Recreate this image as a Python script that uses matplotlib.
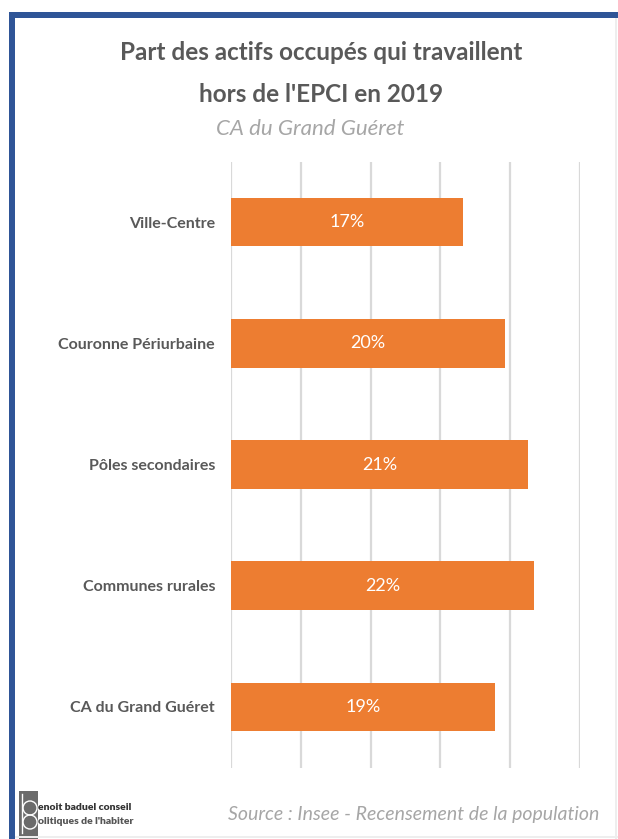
import numpy as np
import matplotlib
matplotlib.use("Agg")
import matplotlib.pyplot as plt
from matplotlib.patches import Rectangle, Circle

plt.rcParams["font.family"] = ["Lato", "DejaVu Sans"]

categories = ["Ville-Centre", "Couronne Périurbaine", "Pôles secondaires",
              "Communes rurales", "CA du Grand Guéret"]
values = [16.6, 19.6, 21.3, 21.7, 18.9]   # % of employed working outside the EPCI
xticks = [0, 5, 10, 15, 20, 25]

C_BAR = "#ED7D31"
C_TXT = "#595959"
C_LIGHT = "#A6A6A6"
C_GRID = "#D9D9D9"
C_BLUE = "#2F5597"

fig = plt.figure(figsize=(6.18, 8.39), dpi=100)
W, H = 618, 839

# frame: blue top/left border, light gray right/bottom
fig.patches.append(Rectangle((9 / W, 1 - 18 / H), 1 - 9 / W, 6 / H,
                             transform=fig.transFigure, fc=C_BLUE, ec="none"))
fig.patches.append(Rectangle((9 / W, 0), 6 / W, 1 - 12 / H,
                             transform=fig.transFigure, fc=C_BLUE, ec="none"))
fig.patches.append(Rectangle((615 / W, 0), 2 / W, 1 - 18 / H,
                             transform=fig.transFigure, fc="#EEEEEE", ec="none"))
fig.patches.append(Rectangle((15 / W, 1 / H), 1 - 15 / W, 2 / H,
                             transform=fig.transFigure, fc="#EEEEEE", ec="none"))

ax = fig.add_axes([231 / W, 71.5 / H, 349 / W, 606 / H])
y = np.arange(len(categories))
bars = ax.barh(y, values, height=0.4, color=C_BAR, zorder=3)
ax.set_ylim(len(categories) - 0.5, -0.5)
ax.set_xlim(xticks[0], xticks[-1])
ax.set_xticks(xticks)
ax.xaxis.grid(True, color=C_GRID, lw=1.6, zorder=0)
ax.tick_params(axis="x", length=0, labelbottom=False)
ax.tick_params(axis="y", length=0, pad=11.5)
ax.set_yticks(y)
ax.set_yticklabels(categories, fontsize=11.5, fontweight="bold", color=C_TXT)
for s in ax.spines.values():
    s.set_visible(False)

for rect, v in zip(bars, values):
    ax.text(v / 2, rect.get_y() + rect.get_height() / 2, f"{v:.0f}%",
            ha="center", va="center", color="white", fontsize=13, zorder=4)

fig.text(321 / W, 1 - 60 / H, "Part des actifs occupés qui travaillent",
         ha="center", va="baseline", fontsize=17.5, fontweight="bold", color=C_TXT)
fig.text(321 / W, 1 - 102 / H, "hors de l'EPCI en 2019",
         ha="center", va="baseline", fontsize=17.5, fontweight="bold", color=C_TXT)
fig.text(310 / W, 1 - 135 / H, "CA du Grand Guéret", ha="center", va="baseline",
         fontsize=16, style="italic", color=C_LIGHT)
fig.text(414 / W, 1 - 820 / H, "Source : Insee - Recensement de la population",
         ha="center", va="baseline", fontsize=14, style="italic", color=C_LIGHT)

# small logo
lax = fig.add_axes([19 / W, 0, 130 / W, 48 / H])
lax.set_xlim(0, 130); lax.set_ylim(0, 48); lax.axis("off")
lax.add_patch(Rectangle((0, 0), 19, 48, fc="#6b6b6b", ec="none"))
lax.plot([3, 3], [6, 45], color="white", lw=1.0)
lax.add_patch(Circle((11, 31), 7, fc="none", ec="white", lw=1.0))
lax.add_patch(Circle((11, 17), 7, fc="none", ec="white", lw=1.0))
lax.text(19, 31, "enoit baduel conseil", fontsize=7.5, fontweight="heavy",
         color="#333333", va="center")
lax.text(19, 17, "olitiques de l'habiter", fontsize=7.5, fontweight="heavy",
         color="#555555", va="center")

fig.savefig("out.png", dpi=100)
